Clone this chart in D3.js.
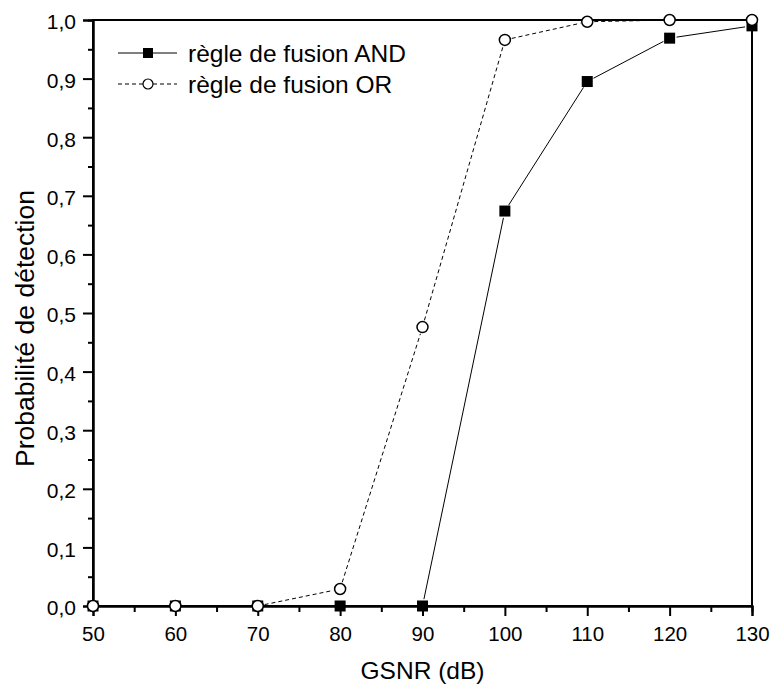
<!DOCTYPE html>
<html>
<head>
<meta charset="utf-8">
<script src="https://cdn.jsdelivr.net/npm/d3@7/dist/d3.min.js"></script>
<style>
  html, body { margin: 0; padding: 0; background: #fff; }
  svg { display: block; font-family: "Liberation Sans", Arial, sans-serif; }
</style>
</head>
<body>
<svg id="chart" width="773" height="691"></svg>
<script>
// GSNR values (dB) and detection probability for each fusion rule
const gsnr = [50, 60, 70, 80, 90, 100, 110, 120, 130];
const pdAnd = [0, 0, 0, 0, 0, 0.674, 0.895, 0.969, 0.990];
const pdOr  = [0, 0, 0, 0.029, 0.476, 0.966, 0.997, 1.0, 1.0];

const xMajorTicks = [50, 60, 70, 80, 90, 100, 110, 120, 130];
const xMinorTicks = [55, 65, 75, 85, 95, 105, 115, 125];
const yMajorTicks = [0, 0.1, 0.2, 0.3, 0.4, 0.5, 0.6, 0.7, 0.8, 0.9, 1.0];
const yMinorTicks = [0.05, 0.15, 0.25, 0.35, 0.45, 0.55, 0.65, 0.75, 0.85, 0.95];

const seriesNames = ["règle de fusion AND", "règle de fusion OR"];
const xTitle = "GSNR (dB)";
const yTitle = "Probabilité de détection";

const svg = d3.select("#chart");
const plotL = 93, plotR = 752, plotT = 20, plotB = 606;

const x = d3.scaleLinear().domain([50, 130]).range([plotL, plotR]);
const y = d3.scaleLinear().domain([0, 1]).range([plotB, plotT]);
const fmt = v => d3.format(".1f")(v).replace(".", ",");

// frame (top and right borders)
svg.append("rect")
  .attr("x", plotL).attr("y", plotT)
  .attr("width", plotR - plotL).attr("height", plotB - plotT)
  .attr("fill", "none").attr("stroke", "#000").attr("stroke-width", 2);

// x axis
const gx = svg.append("g").attr("transform", `translate(0,${plotB})`);
gx.call(d3.axisBottom(x).tickValues(xMajorTicks).tickSize(10).tickFormat(d => d));
gx.append("g").call(d3.axisBottom(x).tickValues(xMinorTicks).tickSize(6).tickFormat(""));
gx.selectAll(".domain").attr("stroke-width", 2);
gx.selectAll("line").attr("stroke-width", 2);
gx.selectAll("text").attr("y", 35).attr("dy", 0)
  .attr("font-size", 20.5).attr("fill", "#000").attr("font-family", "Liberation Sans, Arial, sans-serif");

// y axis
const gy = svg.append("g").attr("transform", `translate(${plotL},0)`);
gy.call(d3.axisLeft(y).tickValues(yMajorTicks).tickSize(10).tickFormat(fmt));
gy.append("g").call(d3.axisLeft(y).tickValues(yMinorTicks).tickSize(5).tickFormat(""));
gy.selectAll(".domain").attr("stroke-width", 2);
gy.selectAll("line").attr("stroke-width", 2);
gy.selectAll("text").attr("x", -17).attr("dy", "0.42em")
  .attr("font-size", 21).attr("fill", "#000").attr("font-family", "Liberation Sans, Arial, sans-serif");

// axis titles
svg.append("text")
  .attr("x", (plotL + plotR) / 2).attr("y", 679)
  .attr("text-anchor", "middle").attr("font-size", 24.5)
  .text(xTitle);
svg.append("text")
  .attr("transform", `translate(34,${(190 + 467) / 2}) rotate(-90)`)
  .attr("text-anchor", "middle").attr("font-size", 26.5)
  .text(yTitle);

// connecting segments that stop short of each marker
function drawSegments(values, dash) {
  const pts = gsnr.map((g, i) => [x(g), y(values[i])]);
  const gap = 7;
  const g = svg.append("g");
  for (let i = 0; i < pts.length - 1; i++) {
    const [x0, y0] = pts[i], [x1, y1] = pts[i + 1];
    const L = Math.hypot(x1 - x0, y1 - y0);
    if (L <= 2 * gap) continue;
    const ux = (x1 - x0) / L, uy = (y1 - y0) / L;
    g.append("line")
      .attr("x1", x0 + ux * gap).attr("y1", y0 + uy * gap)
      .attr("x2", x1 - ux * gap).attr("y2", y1 - uy * gap)
      .attr("stroke", "#000").attr("stroke-width", 1)
      .attr("stroke-dasharray", dash);
  }
}

drawSegments(pdAnd, null);
svg.append("g").selectAll("rect")
  .data(gsnr.map((g, i) => [g, pdAnd[i]]))
  .join("rect")
  .attr("x", d => x(d[0]) - 5.5).attr("y", d => y(d[1]) - 5.5)
  .attr("width", 11).attr("height", 11)
  .attr("fill", "#000");

drawSegments(pdOr, "4,3");
svg.append("g").selectAll("circle")
  .data(gsnr.map((g, i) => [g, pdOr[i]]))
  .join("circle")
  .attr("cx", d => x(d[0])).attr("cy", d => y(d[1]))
  .attr("r", 5.5)
  .attr("fill", "#fff").attr("stroke", "#000").attr("stroke-width", 1.5);

// legend
const lg = svg.append("g");
const rows = [53, 84];
lg.append("line").attr("x1", 118).attr("x2", 177).attr("y1", rows[0]).attr("y2", rows[0])
  .attr("stroke", "#000").attr("stroke-width", 1);
lg.append("rect").attr("x", 148 - 5).attr("y", rows[0] - 5).attr("width", 10).attr("height", 10)
  .attr("fill", "#000");
lg.append("line").attr("x1", 118).attr("x2", 177).attr("y1", rows[1]).attr("y2", rows[1])
  .attr("stroke", "#000").attr("stroke-width", 1).attr("stroke-dasharray", "4,3");
lg.append("circle").attr("cx", 148).attr("cy", rows[1]).attr("r", 5)
  .attr("fill", "#fff").attr("stroke", "#000").attr("stroke-width", 1.2);
seriesNames.forEach((name, i) => {
  lg.append("text").attr("x", 188).attr("y", rows[i] + 9)
    .attr("font-size", 24.5).text(name);
});
</script>
</body>
</html>
